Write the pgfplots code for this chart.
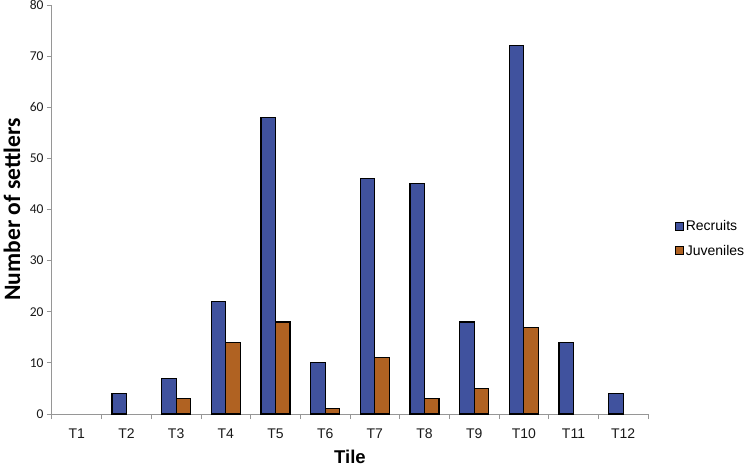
\documentclass[border=0pt]{standalone}
\usepackage{pgfplots}
\pgfplotsset{compat=1.18}
\usepackage{fontspec}
\setmainfont{Liberation Sans}
\newfontfamily\carlito{Carlito}

\definecolor{recblue}{RGB}{64,82,158}
\definecolor{juvorange}{RGB}{176,98,34}
\definecolor{axgray}{RGB}{150,150,150}

% recruits / juveniles per tile (zero counts left out, as in the original)
\pgfplotstableread{
x y
1 4
2 7
3 22
4 58
5 10
6 46
7 45
8 18
9 72
10 14
11 4
}\recruits
\pgfplotstableread{
x y
2 3
3 14
4 18
5 1
6 11
7 3
8 5
9 17
}\juveniles

\begin{document}
\begin{tikzpicture}
\useasboundingbox (-52pt,-53pt) rectangle (694pt,414pt);
\begin{axis}[
    at={(0,0)}, anchor=south west,
    scale only axis, width=596pt, height=409pt,
    ybar=0pt, bar width=14.5pt,
    xmin=-0.5, xmax=11.5, ymin=0, ymax=80,
    xtick={0,...,11},
    xticklabels={T1,T2,T3,T4,T5,T6,T7,T8,T9,T10,T11,T12},
    minor xtick={-0.5,0.5,...,11.5},
    major x tick style={draw=none},
    ytick={0,10,...,80},
    tick align=outside, tick pos=left,
    major tick length=5pt, minor tick length=5pt,
    axis x line*=bottom, axis y line*=left,
    axis line style={axgray, line width=1pt, -},
    every tick/.style={axgray, line width=1pt},
    /pgf/number format/assume math mode=true,
    xticklabel style={font=\fontsize{14}{16}\selectfont, text=black!90, yshift=-6pt},
    yticklabel style={font=\carlito\fontsize{13.5}{15}\selectfont, text=black!90},
    xlabel={\bfseries Tile},
    ylabel={\carlito\bfseries Number of settlers},
    xlabel style={font=\fontsize{18.5}{20}\selectfont, at={(axis description cs:0.5,-0.105)}, anchor=center},
    ylabel style={font=\fontsize{23.5}{25}\selectfont, at={(axis description cs:-0.067,0.5)}, anchor=center},
    legend style={at={(axis description cs:1.045,0.429)}, anchor=west, draw=none, fill=none,
        inner sep=0pt, font=\fontsize{14}{16}\selectfont, row sep=9pt,
        legend cell align=left},
    legend image code/.code={\draw[#1, line width=0.8pt] (0pt,-4pt) rectangle (8pt,4pt);},
]
\addplot[draw=black, line width=1.1pt, fill=recblue] table[x=x,y=y] {\recruits};
\addplot[draw=black, line width=1.1pt, fill=juvorange] table[x=x,y=y] {\juveniles};
\legend{Recruits, Juveniles}
\end{axis}
\end{tikzpicture}
\end{document}
